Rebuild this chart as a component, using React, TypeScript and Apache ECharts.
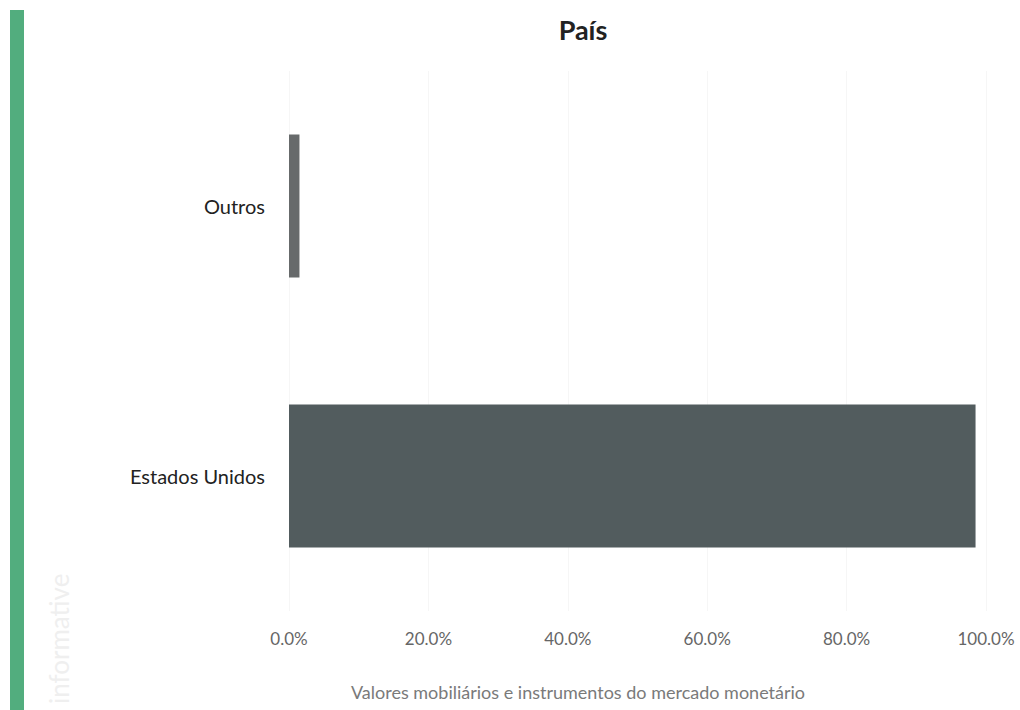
import React, { useEffect, useRef } from "react";
import * as echarts from "echarts";

const categories = ["Estados Unidos", "Outros"];
const values = [98.5, 1.5];
const barColors = ["#525c5e", "#676a6b"];
const tickValues = [0, 20, 40, 60, 80, 100];
const titleText = "País";
const axisTitle = "Valores mobiliários e instrumentos do mercado monetário";
const watermark = "informative";

export default function App() {
  const ref = useRef<HTMLDivElement>(null);
  useEffect(() => {
    document.body.style.margin = "0";
    const chart = echarts.init(ref.current!, null, { renderer: "svg" });
    chart.setOption({
      animation: false,
      backgroundColor: "#ffffff",
      textStyle: { fontFamily: "Lato" },
      title: [
        {
          text: titleText,
          left: 578,
          top: 11,
          textAlign: "center",
          textStyle: { fontFamily: "Lato", fontSize: 27, fontWeight: "bold", color: "#222" },
        },
        {
          text: axisTitle,
          left: 578,
          top: 683,
          padding: 0,
          textAlign: "center",
          textStyle: { fontFamily: "Lato", fontSize: 18, fontWeight: "normal", color: "#7a7a7a" },
        },
      ],
      graphic: [
        { type: "rect", shape: { x: 10, y: 10, width: 14, height: 700 }, style: { fill: "#52ad7e" } },
        {
          type: "text",
          x: 46,
          y: 704,
          rotation: Math.PI / 2,
          style: { text: watermark, fontSize: 26, fill: "#efefef", fontFamily: "Lato" },
        },
      ],
      grid: { left: 289, right: 34, top: 71, bottom: 99, containLabel: false },
      xAxis: {
        type: "value",
        min: 0,
        max: 100,
        interval: 20,
        axisLine: { show: false },
        axisTick: { show: false },
        splitLine: { show: true, lineStyle: { color: "#f6f6f6", width: 1 } },
        axisLabel: {
          margin: 19,
          fontSize: 17,
          color: "#666",
          fontFamily: "Lato",
          formatter: (v: number) => (tickValues.includes(v) ? v.toFixed(1) + "%" : ""),
        },
      },
      yAxis: {
        type: "category",
        data: categories,
        axisLine: { show: false },
        axisTick: { show: false },
        axisLabel: { margin: 24, fontSize: 20, color: "#222", fontFamily: "Lato" },
      },
      series: [
        {
          type: "bar",
          data: values.map((v, i) => ({ value: v, itemStyle: { color: barColors[i] } })),
          barCategoryGap: "47%",
        },
      ],
    });
    return () => chart.dispose();
  }, []);
  return <div ref={ref} style={{ width: 1020, height: 710 }} />;
}
